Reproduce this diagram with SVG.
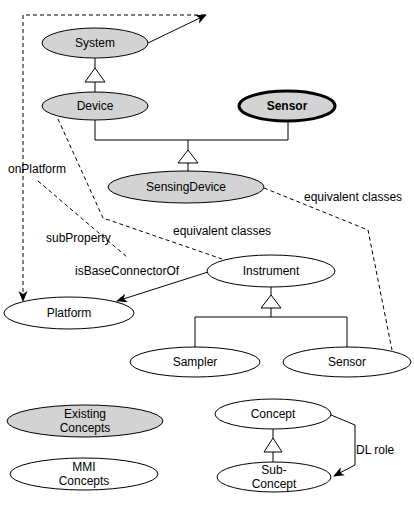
<svg xmlns="http://www.w3.org/2000/svg" width="414" height="509" viewBox="0 0 414 509">
<defs>
<style>
.n ellipse{stroke:#000;stroke-width:1}
.g{fill:#d3d3d3}
.w{fill:#fff}
text{font-family:"Liberation Sans",Arial,sans-serif;font-size:12px;fill:#000}
.c{text-anchor:middle}
.e{fill:none;stroke:#000;stroke-width:1}
.d{stroke-dasharray:4,3}
.tri{fill:#fff;stroke:#000;stroke-width:1}
</style>
<marker id="arr" markerWidth="12" markerHeight="10" refX="10" refY="4.5" orient="auto" markerUnits="userSpaceOnUse">
<path d="M0,0 L11,4.5 L0,9 L3,4.5 z" fill="#000"/>
</marker>
</defs>
<rect width="414" height="509" fill="#fff"/>
<g id="connectors">
<path class="e d" d="M205,15 L23,15 L23,301" marker-end="url(#arr)"/>
<path class="e" d="M148,43 L206,15" marker-end="url(#arr)"/>
<path class="e" d="M95,58 V68 M95,82 V92"/>
<polygon class="tri" points="95,68 85,82 105,82"/>
<path class="e" d="M95,120 V140 H288 V121 M188,140 V150 M188,163 V172"/>
<polygon class="tri" points="188,150 178,163 198,163"/>
<path class="e d" d="M58,119 L103,218 L222,259"/>
<path class="e d" d="M38,181 L127,257"/>
<path class="e d" d="M264,188 L368,230 L392,350"/>
<path class="e" d="M208,272 L117,301" marker-end="url(#arr)"/>
<path class="e" d="M271,287 V295 M271,308 V317 M195,317 H347 M195,317 V347 M347,317 V347"/>
<polygon class="tri" points="271,295 261,308 281,308"/>
<path class="e" d="M273,429 V438 M273,452 V462"/>
<polygon class="tri" points="273,438 264,452 282,452"/>
<path class="e" d="M331,415 L355,425 V465 L334,476" marker-end="url(#arr)"/>
</g>
<g id="labels">
<text x="8" y="173">onPlatform</text>
<text x="46" y="242">subProperty</text>
<text x="75" y="275">isBaseConnectorOf</text>
<text x="173" y="235">equivalent classes</text>
<text x="304" y="201">equivalent classes</text>
<text x="356" y="454">DL role</text>
</g>
<g id="System" class="n"><ellipse class="g" cx="95" cy="43" rx="53" ry="15"/><text class="c" x="95" y="47">System</text></g>
<g id="Device" class="n"><ellipse class="g" cx="95" cy="106" rx="53" ry="14"/><text class="c" x="95" y="110">Device</text></g>
<g id="SensorTop" class="n"><ellipse class="g" cx="287" cy="106" rx="48" ry="15" style="stroke-width:3"/><text class="c" x="287" y="110" font-weight="bold">Sensor</text></g>
<g id="SensingDevice" class="n"><ellipse class="g" cx="186" cy="187" rx="78" ry="16"/><text class="c" x="186" y="191">SensingDevice</text></g>
<g id="Instrument" class="n"><ellipse class="w" cx="271" cy="271" rx="64" ry="16"/><text class="c" x="271" y="275">Instrument</text></g>
<g id="Platform" class="n"><ellipse class="w" cx="69" cy="313" rx="65" ry="16"/><text class="c" x="69" y="317">Platform</text></g>
<g id="Sampler" class="n"><ellipse class="w" cx="195" cy="362" rx="65" ry="15"/><text class="c" x="195" y="366">Sampler</text></g>
<g id="Sensor" class="n"><ellipse class="w" cx="347" cy="362" rx="64" ry="15"/><text class="c" x="347" y="366">Sensor</text></g>
<g id="ExistingConcepts" class="n"><ellipse class="g" cx="85" cy="421" rx="78" ry="16"/><text class="c" x="85" y="418">Existing</text><text class="c" x="85" y="432">Concepts</text></g>
<g id="MMIConcepts" class="n"><ellipse class="w" cx="84" cy="474" rx="74" ry="16"/><text class="c" x="84" y="471">MMI</text><text class="c" x="84" y="485">Concepts</text></g>
<g id="Concept" class="n"><ellipse class="w" cx="273" cy="414" rx="58" ry="15"/><text class="c" x="273" y="418">Concept</text></g>
<g id="SubConcept" class="n"><ellipse class="w" cx="274" cy="477" rx="57" ry="15"/><text class="c" x="274" y="474">Sub-</text><text class="c" x="274" y="488">Concept</text></g>
</svg>
